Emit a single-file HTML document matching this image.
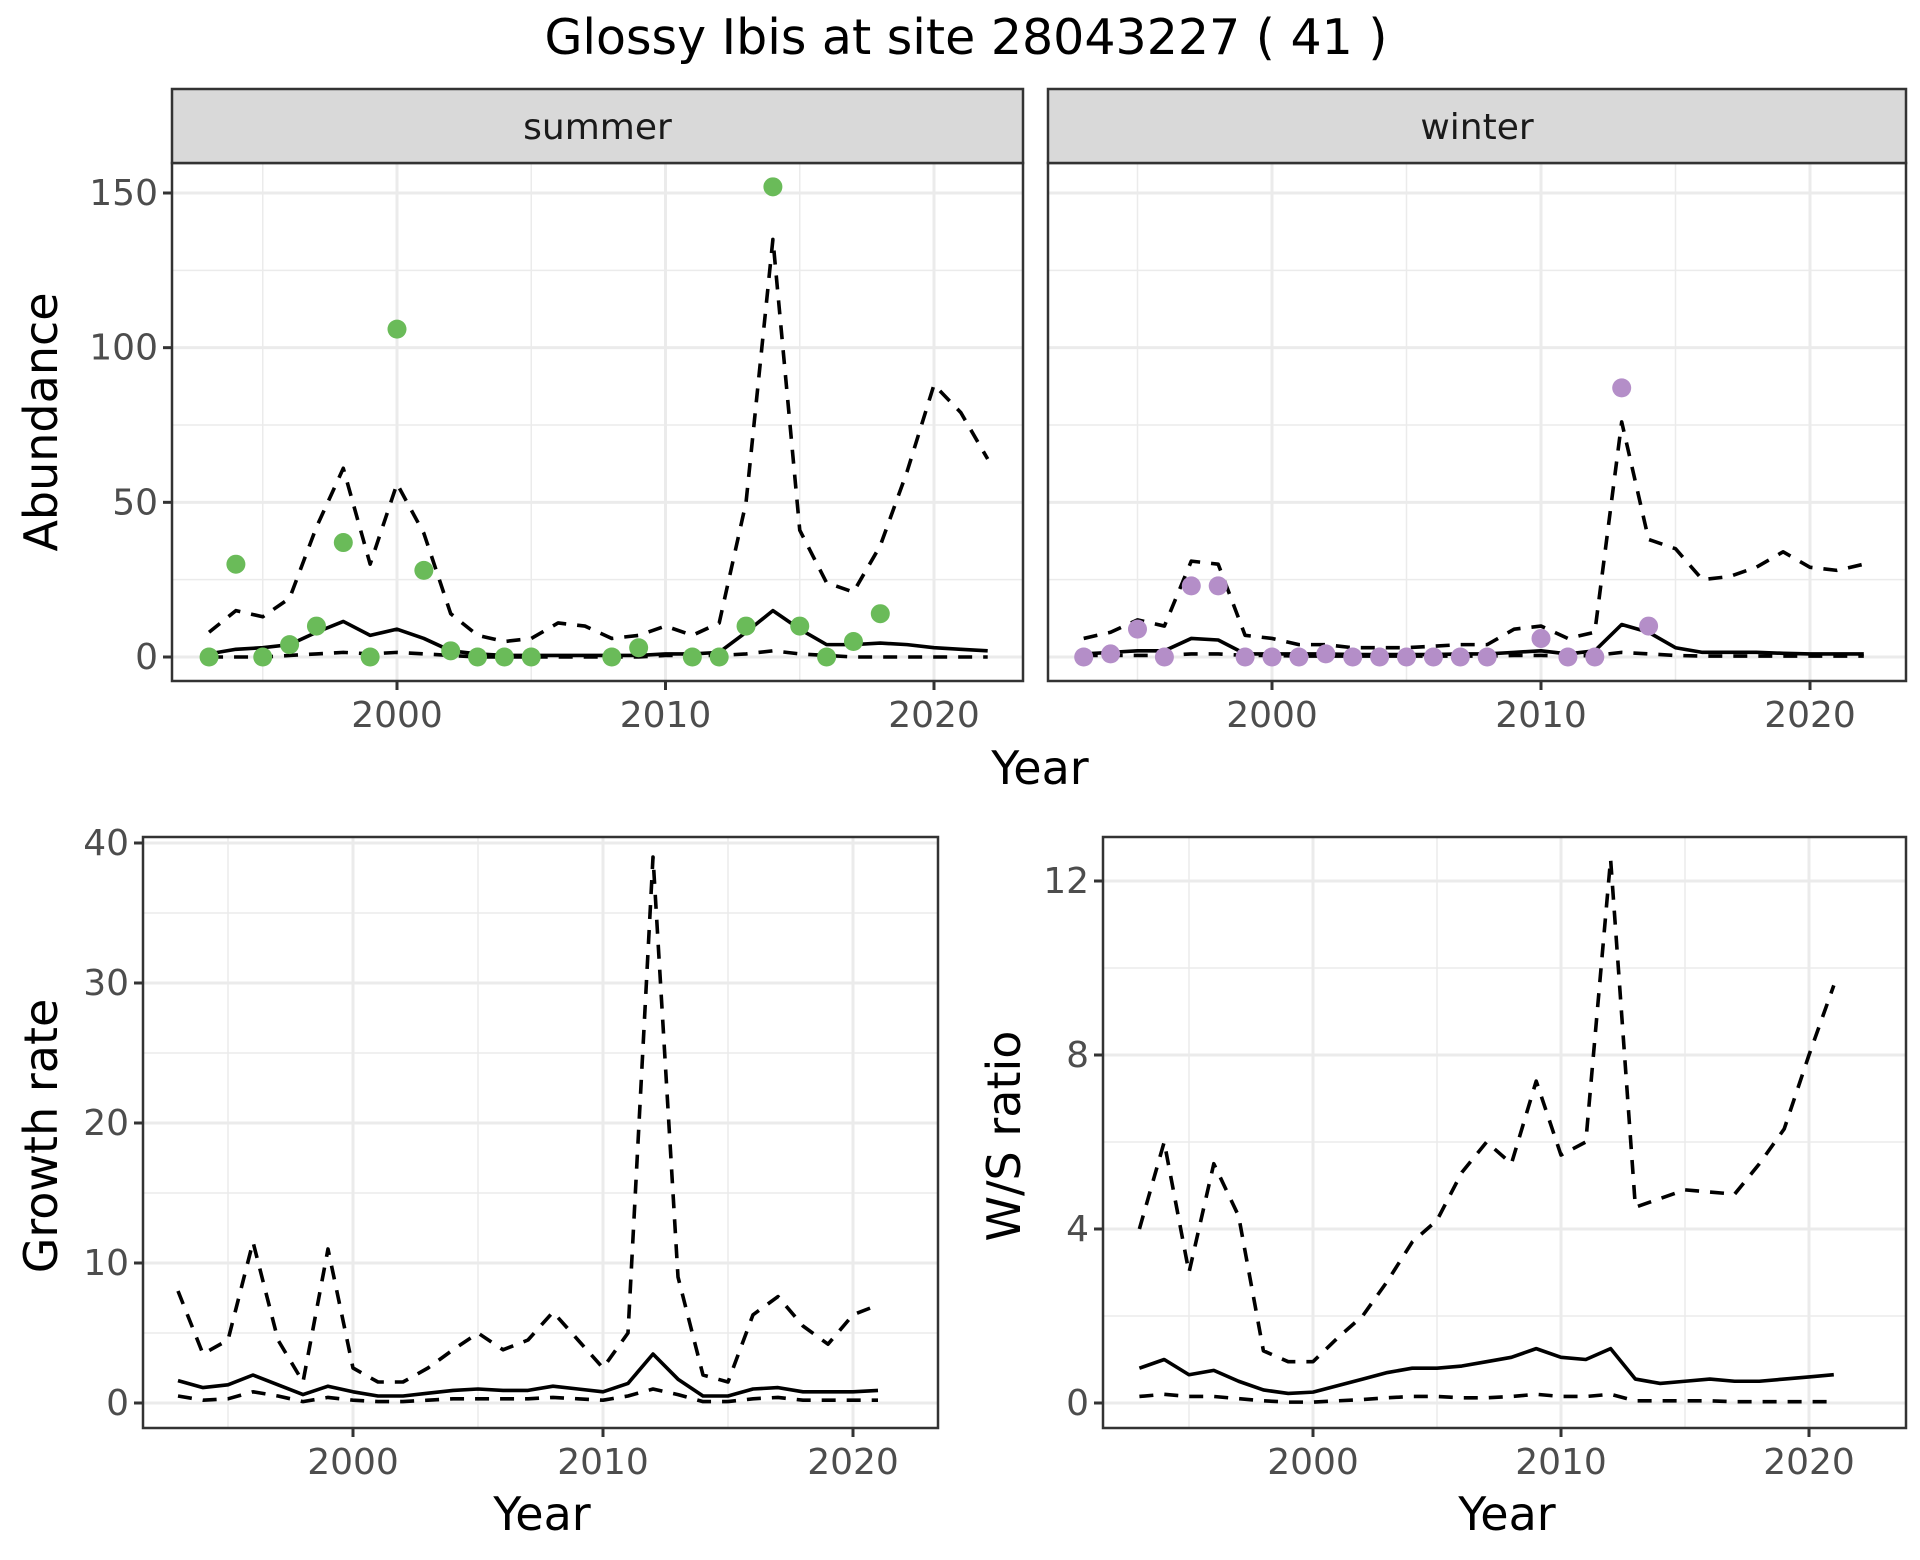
<!DOCTYPE html>
<html><head><meta charset="utf-8"><style>
html,body{margin:0;padding:0;background:#fff;}
svg{display:block;font-family:"DejaVu Sans","Liberation Sans",sans-serif;}
</style></head><body>
<svg id="chart" width="1920" height="1560" viewBox="0 0 1920 1560" xmlns="http://www.w3.org/2000/svg">
<rect width="1920" height="1560" fill="#fff"/>
<text x="966" y="54" font-size="49" text-anchor="middle" fill="#000">Glossy Ibis at site 28043227 ( 41 )</text>
</svg>
<script>
const years = [1993,1994,1995,1996,1997,1998,1999,2000,2001,2002,2003,2004,2005,2006,2007,2008,2009,2010,2011,2012,2013,2014,2015,2016,2017,2018,2019,2020,2021,2022];
const summerPtYears = [1993,1994,1995,1996,1997,1998,1999,2000,2001,2002,2003,2004,2005,2008,2009,2011,2012,2013,2014,2015,2016,2017,2018];
const summerPtVals = [0,30,0,4,10,37,0,106,28,2,0,0,0,0,3,0,0,10,152,10,0,5,14];
const summerMean = [1,2.5,3,4,8,11.5,7,9,6,2,1,0.5,0.5,0.5,0.5,0.5,0.5,1,1,1.5,8,15,9,4,4,4.5,4,3,2.5,2];
const summerUpper = [8,15,13,19,42,61,30,56,40,14,7,5,6,11,10,6,7,10,7,11,50,135,41,24,21,36,60,88,79,64];
const summerLower = [0,0,0,0.5,1,1.5,1,1.5,1,0.5,0,0,0,0,0,0,0,0.5,0.5,0.5,1,2,1,0.5,0,0,0,0,0,0];
const winterPtYears = [1993,1994,1995,1996,1997,1998,1999,2000,2001,2002,2003,2004,2005,2006,2007,2008,2010,2011,2012,2013,2014];
const winterPtVals = [0,1,9,0,23,23,0,0,0,1,0,0,0,0,0,0,6,0,0,87,10];
const winterMean = [1,1.5,2,2,6,5.5,1,1,1,1,0.8,0.8,0.8,0.8,1,1,1.5,2,1,2,10.5,8,3,1.5,1.5,1.5,1.2,1,1,1];
const winterUpper = [6,8,12,10,31,30,7,6,4,4,3,3,3,3.5,4,4,9,10,6,8,76,38,35,25,26,29,34,29,28,30];
const winterLower = [0.5,0.5,0.5,0.5,1,1,0.5,0.5,0.3,0.3,0.3,0.3,0.3,0.3,0.3,0.3,0.5,0.5,0.3,0.5,1.5,1,0.5,0.3,0.3,0.3,0.3,0.3,0.3,0.3];
const gYears = years.slice(0,29);
const growthMean = [1.6,1.1,1.3,2.0,1.3,0.6,1.2,0.8,0.5,0.5,0.7,0.9,1.0,0.9,0.9,1.2,1.0,0.8,1.4,3.5,1.7,0.5,0.5,1.0,1.1,0.8,0.8,0.8,0.9];
const growthUpper = [8,3.5,4.5,11.5,4.5,1.5,11,2.5,1.5,1.5,2.5,3.8,5,3.8,4.5,6.5,4.5,2.5,5,39,9,2,1.5,6.3,7.6,5.5,4.2,6.3,7];
const growthLower = [0.5,0.2,0.3,0.8,0.5,0.1,0.4,0.2,0.1,0.1,0.2,0.3,0.3,0.3,0.3,0.4,0.3,0.2,0.5,1.0,0.6,0.1,0.1,0.3,0.4,0.2,0.2,0.2,0.2];
const wsMean = [0.8,1.0,0.65,0.75,0.5,0.3,0.22,0.25,0.4,0.55,0.7,0.8,0.8,0.85,0.95,1.05,1.25,1.05,1.0,1.25,0.55,0.45,0.5,0.55,0.5,0.5,0.55,0.6,0.65];
const wsUpper = [4.0,6.0,3.0,5.5,4.3,1.2,0.95,0.95,1.5,2.0,2.8,3.7,4.2,5.3,6.0,5.5,7.4,5.7,6.0,12.5,4.5,4.7,4.9,4.85,4.8,5.5,6.3,8.0,9.6];
const wsLower = [0.15,0.2,0.15,0.15,0.1,0.05,0.02,0.02,0.05,0.08,0.12,0.15,0.15,0.12,0.12,0.15,0.2,0.15,0.15,0.2,0.05,0.05,0.05,0.05,0.03,0.03,0.03,0.03,0.03];
const xTicks = [2000,2010,2020];
const xMinor = [1995,2005,2015];
const abTicks = [0,50,100,150];
const abMinor = [25,75,125];
const grTicks = [0,10,20,30,40];
const grMinor = [5,15,25,35];
const wsTicks = [0,4,8,12];
const wsMinor = [2,6,10];

const NS='http://www.w3.org/2000/svg';
const svg=document.getElementById('chart');
function mk(tag,attrs,parent){const e=document.createElementNS(NS,tag);for(const k in attrs)e.setAttribute(k,attrs[k]);(parent||svg).appendChild(e);return e;}
function lin(d0,d1,r0,r1){return v=>r0+(v-d0)*(r1-r0)/(d1-d0);}

function panel(name,box,xs,ys,yt,ym,showY,showX){
  const g=mk('g',{});
  
  
  mk('rect',{x:box.x0,y:box.y0,width:box.x1-box.x0,height:box.y1-box.y0,fill:'#fff'},g);
  ym.forEach(v=>{const l=mk('line',{x1:box.x0,x2:box.x1,y1:ys(v),y2:ys(v),stroke:'#ebebeb','stroke-width':1.5},g);});
  xMinor.forEach(v=>{const l=mk('line',{y1:box.y0,y2:box.y1,x1:xs(v),x2:xs(v),stroke:'#ebebeb','stroke-width':1.5},g);});
  yt.forEach(v=>{const l=mk('line',{x1:box.x0,x2:box.x1,y1:ys(v),y2:ys(v),stroke:'#ebebeb','stroke-width':3},g);});
  xTicks.forEach(v=>{const l=mk('line',{y1:box.y0,y2:box.y1,x1:xs(v),x2:xs(v),stroke:'#ebebeb','stroke-width':3},g);});
  if(showY) yt.forEach(v=>{
    mk('line',{x1:box.x0-9,x2:box.x0,y1:ys(v),y2:ys(v),stroke:'#333','stroke-width':3},g);
    const t=mk('text',{x:box.x0-14,y:ys(v)+12,'font-size':36,'text-anchor':'end',fill:'#4d4d4d'},g);
    
    
    t.textContent=v;});
  if(showX) xTicks.forEach(v=>{
    mk('line',{x1:xs(v),x2:xs(v),y1:box.y1,y2:box.y1+9,stroke:'#333','stroke-width':3},g);
    const t=mk('text',{x:xs(v),y:box.y1+46,'font-size':36,'text-anchor':'middle',fill:'#4d4d4d'},g);
    
    
    t.textContent=v;});
  return g;
}
function line(g,name,xv,yv,xs,ys,dash){
  const p=mk('polyline',{points:xv.map((x,i)=>xs(x)+','+ys(yv[i])).join(' '),fill:'none',stroke:'#000','stroke-width':3.6,'stroke-dasharray':dash?'14,11':'none','stroke-linejoin':'round'},g);
  
  
}
function pts(g,name,xv,yv,xs,ys,col){
  xv.forEach((x,i)=>{const c=mk('circle',{cx:xs(x),cy:ys(yv[i]),r:9.5,fill:col},g);
  
  });
}
function border(g,box){mk('rect',{x:box.x0,y:box.y0,width:box.x1-box.x0,height:box.y1-box.y0,fill:'none',stroke:'#333','stroke-width':2.5},g);}
function strip(name,box,label){
  const g=mk('g',{});
  
  
  mk('rect',{x:box.x0,y:89,width:box.x1-box.x0,height:74,fill:'#d9d9d9',stroke:'#333','stroke-width':2.5},g);
  const t=mk('text',{x:(box.x0+box.x1)/2,y:139,'font-size':36,'text-anchor':'middle',fill:'#1a1a1a'},g);
  t.textContent=label;
}
function label(name,txt,x,y,rot){
  const t=mk('text',{x:x,y:y,'font-size':46,'text-anchor':'middle',fill:'#000',transform:rot?`rotate(-90 ${x} ${y})`:''});
  
  
  t.textContent=txt;
}

// summer
const bS={x0:172,x1:1023,y0:163,y1:681};
const xS=lin(2000,2020,397,934), yS=lin(0,150,657,193);
let g=panel('summer-panel',bS,xS,yS,abTicks,abMinor,true,true);
line(g,'summer-upper',years,summerUpper,xS,yS,true);
line(g,'summer-lower',years,summerLower,xS,yS,true);
line(g,'summer-mean',years,summerMean,xS,yS,false);
pts(g,'summer-point',summerPtYears,summerPtVals,xS,yS,'#6abb59');
border(g,bS); strip('summer-strip',bS,'summer');
// winter
const bW={x0:1048,x1:1906,y0:163,y1:681};
const xW=lin(2000,2020,1272,1810);
g=panel('winter-panel',bW,xW,yS,abTicks,abMinor,false,true);
line(g,'winter-upper',years,winterUpper,xW,yS,true);
line(g,'winter-lower',years,winterLower,xW,yS,true);
line(g,'winter-mean',years,winterMean,xW,yS,false);
pts(g,'winter-point',winterPtYears,winterPtVals,xW,yS,'#b48ec8');
border(g,bW); strip('winter-strip',bW,'winter');
label('y-axis-title-abundance','Abundance',57,422,true);
label('x-axis-title-top','Year',1040,784,false);
// growth
const bG={x0:143,x1:938,y0:837,y1:1428};
const xG=lin(2000,2020,353,853), yG=lin(0,40,1403,843);
g=panel('growth-panel',bG,xG,yG,grTicks,grMinor,true,true);
line(g,'growth-upper',gYears,growthUpper,xG,yG,true);
line(g,'growth-lower',gYears,growthLower,xG,yG,true);
line(g,'growth-mean',gYears,growthMean,xG,yG,false);
border(g,bG);
label('y-axis-title-growth','Growth rate',57,1136,true);
label('x-axis-title-growth','Year',542,1530,false);
// ws
const bR={x0:1103,x1:1906,y0:837,y1:1428};
const xR=lin(1995,2020,1189,1809), yR=lin(0,12,1403,881);
g=panel('ws-panel',bR,xR,yR,wsTicks,wsMinor,true,true);
line(g,'ws-upper',gYears,wsUpper,xR,yR,true);
line(g,'ws-lower',gYears,wsLower,xR,yR,true);
line(g,'ws-mean',gYears,wsMean,xR,yR,false);
border(g,bR);
label('y-axis-title-ws','W/S ratio',1020,1136,true);
label('x-axis-title-ws','Year',1507,1530,false);
</script>
</body></html>
